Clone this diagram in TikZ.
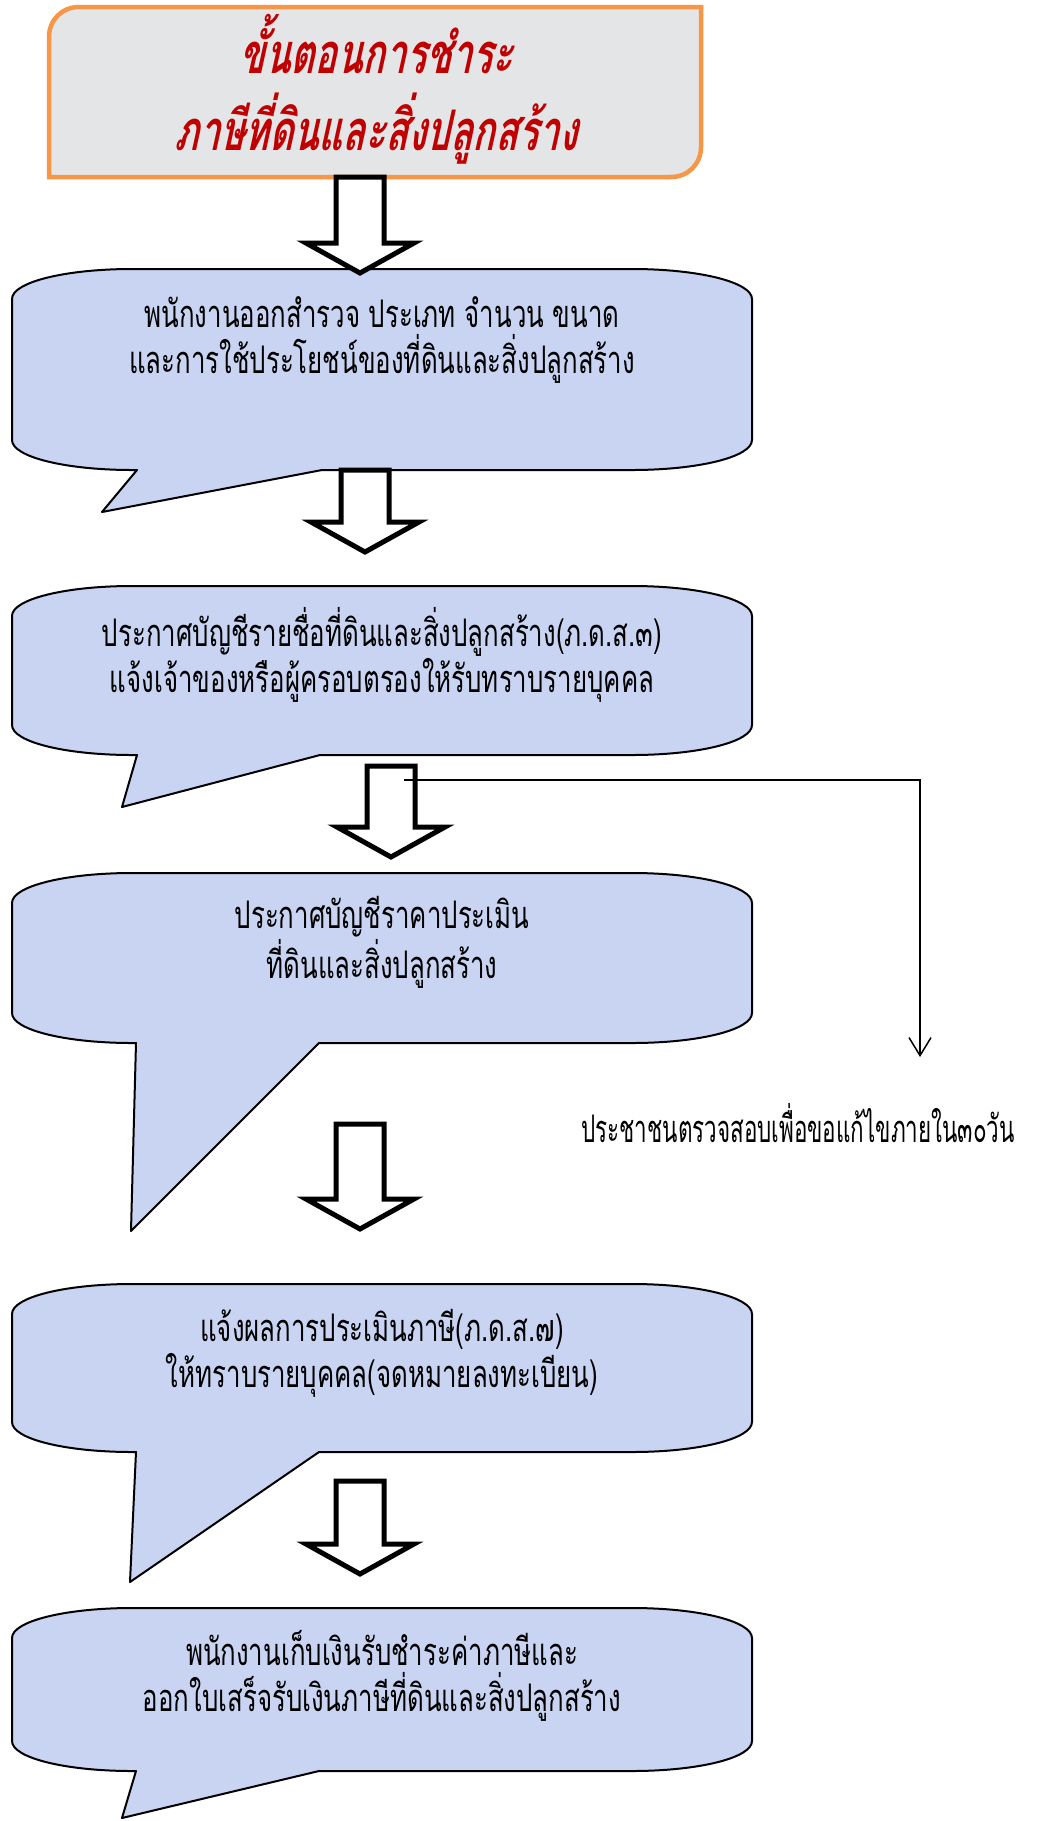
\documentclass[tikz,border=0pt]{standalone}
\usepackage{fontspec}
\newfontfamily\thaifont[Script=Thai,FakeStretch=0.68]{Loma}
\newfontfamily\thainote[Script=Thai,FakeStretch=0.59]{Loma}
\newfontfamily\thaititle[Script=Thai,FakeStretch=0.665,FakeSlant=0.22]{Loma}
\usetikzlibrary{arrows.meta}

\definecolor{bubblefill}{RGB}{200,212,242}
\definecolor{marble}{RGB}{228,229,231}
\definecolor{titleedge}{RGB}{247,150,70}
\definecolor{titlered}{RGB}{192,0,0}

\tikzset{
	speech/.style={draw=black, line width=1pt, fill=bubblefill, line join=round},
	titlebox/.style={draw=titleedge, line width=2.25pt, fill=marble},
	fatarrow/.style={draw=black, line width=2.5pt, fill=white, line join=miter},
	steptext/.style={font=\thaifont\fontsize{19pt}{23pt}\selectfont, align=center, inner sep=0pt},
	notetext/.style={font=\thainote\fontsize{19pt}{23pt}\selectfont, inner sep=0pt},
	titletext/.style={font=\thaititle\bfseries\fontsize{28pt}{34pt}\selectfont, text=titlered, inner sep=0pt},
	notearrow/.style={line width=0.75pt, -{Straight Barb[length=9pt,width=11pt]}}
}

% bubble: top, bottom, tail base left, tail base right, tail tip
\newcommand{\speechbox}[5]{%
	\draw[speech] (12,#1+30) .. controls (12,#1+13) and (66,#1) .. (132,#1)
		-- (632,#1) .. controls (698,#1) and (752,#1+13) .. (752,#1+30)
		-- (752,#2-30) .. controls (752,#2-13) and (698,#2) .. (632,#2)
		-- (#4,#2) -- #5 -- (#3,#2)
		-- (132,#2) .. controls (66,#2) and (12,#2-13) .. (12,#2-30) -- cycle;}

% hollow block arrow: centre x, top y, tip y
\newcommand{\fatdown}[3]{%
	\draw[fatarrow] (#1-24,#2) -- (#1-24,#3-30) -- (#1-54,#3-30) -- (#1,#3)
		-- (#1+54,#3-30) -- (#1+24,#3-30) -- (#1+24,#2) -- cycle;}

\begin{document}
\begin{tikzpicture}[x=0.5pt, y=-0.5pt]
	\useasboundingbox (0,0) rectangle (1037,1821);

	% heading
	\draw[titlebox] (49,37) .. controls (49,20) and (62,7) .. (79,7) -- (701,7)
		-- (701,147) .. controls (701,164) and (688,177) .. (671,177) -- (49,177) -- cycle;
	\node[titletext, anchor=base] (title) at (376,73) {ขั้นตอนการชำระ};
	\node[titletext, anchor=base] (subtitle) at (376,150) {ภาษีที่ดินและสิ่งปลูกสร้าง};

	% steps
	\speechbox{269}{470}{137}{322}{(102,512)}
	\node[steptext] (survey) at (382,340) {พนักงานออกสำรวจ ประเภท จำนวน ขนาด\\และการใช้ประโยชน์ของที่ดินและสิ่งปลูกสร้าง};

	\speechbox{586}{755}{137}{320}{(122,807)}
	\node[steptext] (roster) at (382,655) {ประกาศบัญชีรายชื่อที่ดินและสิ่งปลูกสร้าง(ภ.ด.ส.๓)\\แจ้งเจ้าของหรือผู้ครอบตรองให้รับทราบรายบุคคล};

	\speechbox{873}{1043}{136}{319}{(131,1231)}
	\node[steptext] (appraisal) at (382,942) {ประกาศบัญชีราคาประเมิน\\ที่ดินและสิ่งปลูกสร้าง};

	\speechbox{1284}{1452}{136}{319}{(130,1582)}
	\node[steptext] (notice) at (382,1353) {แจ้งผลการประเมินภาษี(ภ.ด.ส.๗)\\ให้ทราบรายบุคคล(จดหมายลงทะเบียน)};

	\speechbox{1608}{1771}{136}{319}{(122,1818)}
	\node[steptext] (payment) at (382,1676) {พนักงานเก็บเงินรับชำระค่าภาษีและ\\ออกใบเสร็จรับเงินภาษีที่ดินและสิ่งปลูกสร้าง};

	% block arrows
	\fatdown{360}{177}{273}
	\fatdown{365}{470}{552}
	\fatdown{391}{766}{857}
	\fatdown{360}{1124}{1229}
	\fatdown{360}{1481}{1574}

	% side remark
	\coordinate (notefrom) at (404,780);
	\coordinate (noteto) at (920,1057);
	\draw[notearrow] (notefrom) -| (noteto);
	\node[notetext] (note) at (798,1123) {ประชาชนตรวจสอบเพื่อขอแก้ไขภายใน๓๐วัน};
\end{tikzpicture}
\end{document}
